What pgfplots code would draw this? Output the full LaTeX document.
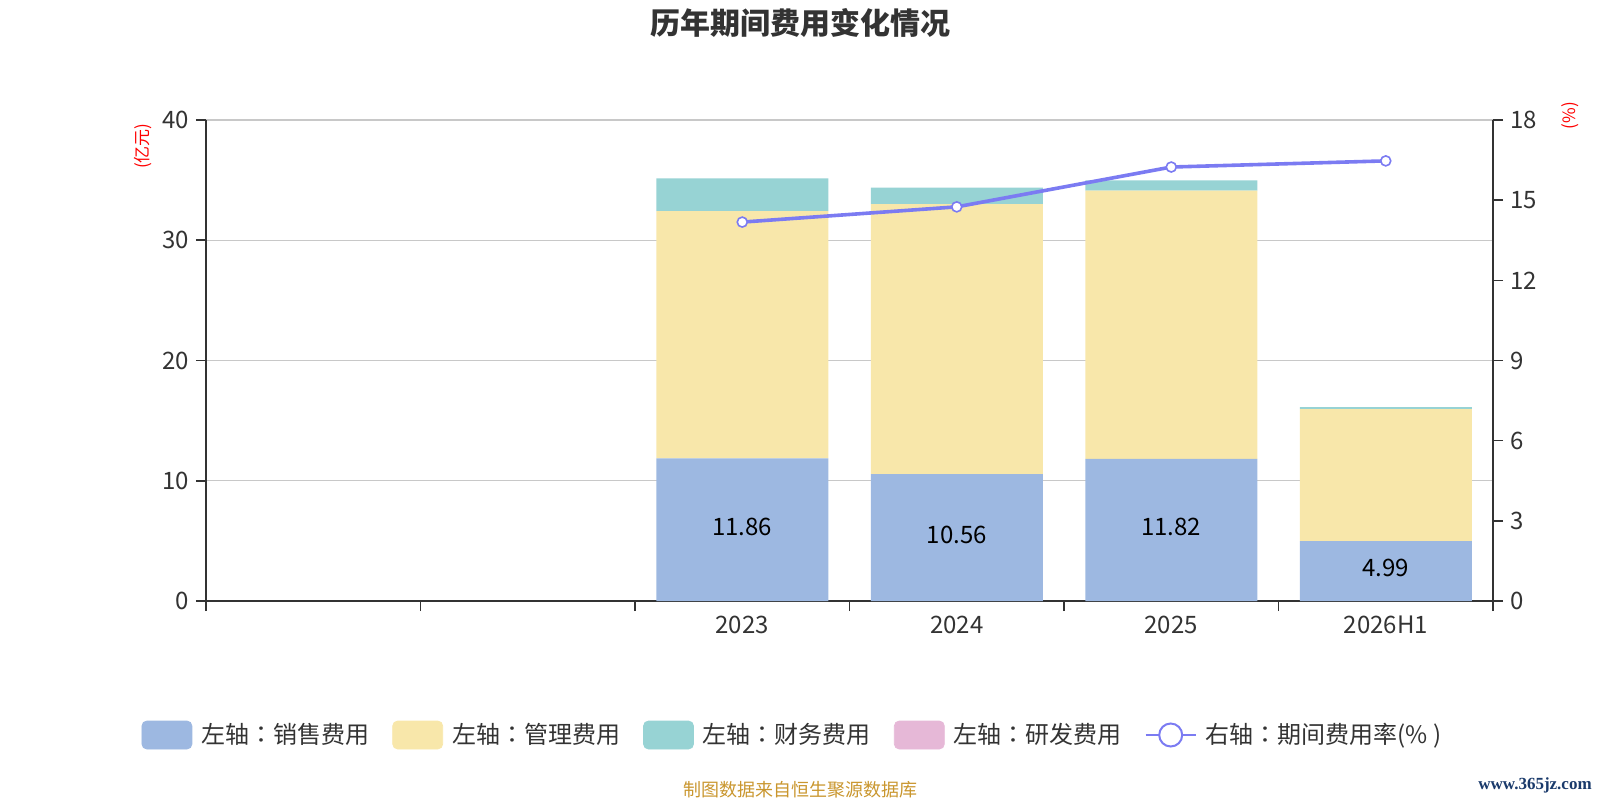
\documentclass[border=0pt]{standalone}
\usepackage{pgfplots}
\pgfplotsset{compat=1.18}
\usepackage{fontspec}
\setmainfont{Noto Sans CJK SC}
\newfontfamily\tcfont{Noto Sans CJK TC}
\newfontfamily\wmfont{Liberation Serif}
\newcommand{\cc}{{\tcfont ：}}
\definecolor{cSales}{HTML}{9DB8E1}
\definecolor{cAdmin}{HTML}{F8E7AA}
\definecolor{cFin}{HTML}{97D3D4}
\definecolor{cRD}{HTML}{E6B8D7}
\definecolor{cLine}{HTML}{7B7BF2}
\definecolor{cAxis}{HTML}{333333}
\definecolor{cGrid}{HTML}{C8C8C8}
\definecolor{cFoot}{HTML}{C9962E}
\definecolor{cWm}{HTML}{1A3A6B}
\pgfplotsset{
  common/.style={
    at={(103pt,99.5pt)}, anchor=south west, scale only axis,
    width=643.5pt, height=240.5pt,
    xmin=-0.5, xmax=5.5,
    /pgf/number format/assume math mode=true,
    ticklabel style={font=\fontsize{12}{14}\selectfont, text=cAxis},
    axis line style={cAxis, line width=0.8pt},
    tick style={cAxis, line width=0.8pt},
    major tick length=5pt,
    tick align=outside,
  }
}
\begin{document}
\begin{tikzpicture}[x=1pt,y=1pt]
\useasboundingbox (0,0) rectangle (800,400);
\node[font=\bfseries\fontsize{15}{18}\selectfont, text=cAxis] at (400,388.75) {历年期间费用变化情况};

% bars, left axis
\begin{axis}[common,
  ybar stacked, bar width=86pt,
  ymin=0, ymax=40, ytick={0,10,20,30,40},
  xtick={-0.5,0.5,1.5,2.5,3.5,4.5,5.5},
  x tick label as interval,
  xticklabels={,,2023,2024,2025,2026H1},
  axis x line*=bottom, axis y line*=left,
  ymajorgrids, grid style={cGrid, line width=0.6pt},
  xticklabel style={yshift=1pt},
]
\addplot[fill=cSales, draw=none] coordinates {(2,11.86) (3,10.56) (4,11.82) (5,4.99)};
\addplot[fill=cAdmin, draw=none] coordinates {(2,20.57) (3,22.44) (4,22.31) (5,10.97)};
\addplot[fill=cFin, draw=none] coordinates {(2,2.72) (3,1.38) (4,0.84) (5,0.17)};
\addplot[fill=cRD, draw=none] coordinates {(2,0) (3,0) (4,0) (5,0)};
\end{axis}

% data labels of sales
\begin{axis}[common, hide axis, ymin=0, ymax=40]
\addplot[only marks, mark=none, nodes near coords, point meta=explicit symbolic,
  every node near coord/.append style={anchor=center, yshift=1.5pt, font=\fontsize{12}{14}\selectfont, text=black}]
  table[meta=lab] {
x y lab
2 5.93 11.86
3 5.28 10.56
4 5.91 11.82
5 2.50 4.99
};
\end{axis}

% line, right axis
\begin{axis}[common,
  ymin=0, ymax=18, ytick={0,3,6,9,12,15,18},
  axis x line=none, axis y line*=right,
  legend columns=5,
  legend style={at={(0.4584,-0.2786)}, anchor=center, draw=none, fill=none,
    font=\fontsize{12}{14}\selectfont, text=cAxis,
    /tikz/every even column/.append style={column sep=7pt},
    nodes={inner xsep=4.5pt}},
]
\addlegendimage{legend image code/.code={\fill[cSales, rounded corners=2.5pt] (0pt,-7pt) rectangle (25pt,7pt);}}
\addlegendentry{左轴\cc 销售费用}
\addlegendimage{legend image code/.code={\fill[cAdmin, rounded corners=2.5pt] (0pt,-7pt) rectangle (25pt,7pt);}}
\addlegendentry{左轴\cc 管理费用}
\addlegendimage{legend image code/.code={\fill[cFin, rounded corners=2.5pt] (0pt,-7pt) rectangle (25pt,7pt);}}
\addlegendentry{左轴\cc 财务费用}
\addlegendimage{legend image code/.code={\fill[cRD, rounded corners=2.5pt] (0pt,-7pt) rectangle (25pt,7pt);}}
\addlegendentry{左轴\cc 研发费用}
\addplot[cLine, line width=1.8pt, mark=*, mark size=2.5pt,
  mark options={fill=white, draw=cLine, line width=0.8pt},
  legend image code/.code={\draw[cLine, line width=1pt] (0pt,0pt) -- (25pt,0pt);
    \draw[cLine, fill=white, line width=1pt] (12.5pt,0pt) circle (5.75pt);}]
  coordinates {(2,14.18) (3,14.75) (4,16.24) (5,16.47)};
\addlegendentry{右轴\cc 期间费用率(\% )}
\end{axis}

\node[rotate=90, text=red, font=\fontsize{8.5}{10}\selectfont] at (71.5,327) {(亿元)};
\node[rotate=90, text=red, font=\fontsize{8.5}{10}\selectfont] at (785,342.25) {(\%)};
\node[text=cFoot, font=\fontsize{9}{11}\selectfont] at (400,5) {制图数据来自恒生聚源数据库};
\node[text=cWm, font=\wmfont\bfseries\fontsize{8.5}{10}\selectfont] at (767.5,7.5) {www.365jz.com};
\end{tikzpicture}
\end{document}
